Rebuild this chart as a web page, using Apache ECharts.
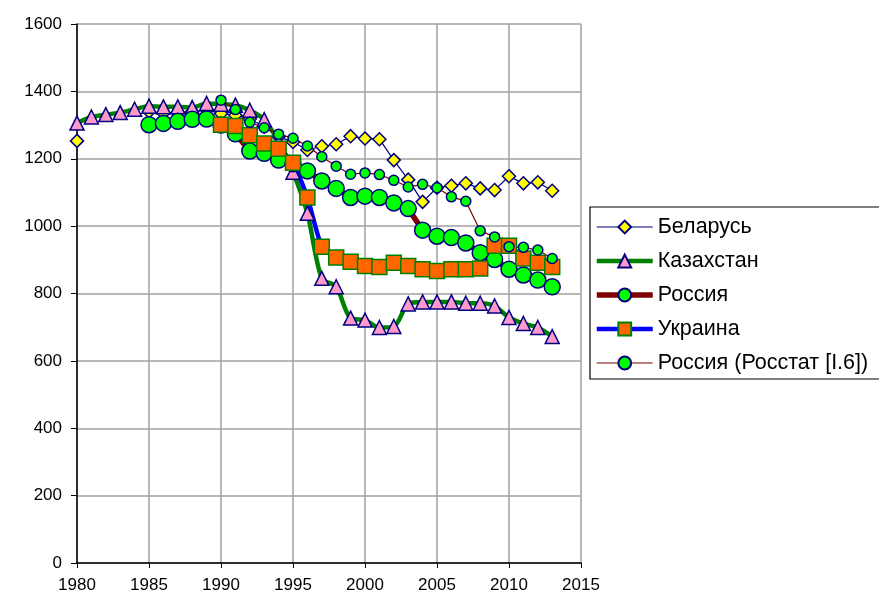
<!DOCTYPE html>
<html>
<head>
<meta charset="utf-8">
<script src="https://cdn.jsdelivr.net/npm/echarts@6/dist/echarts.min.js"></script>
<style>
html,body{margin:0;padding:0;background:#fff;}
#c{width:879px;height:598px;}
</style>
</head>
<body>
<div id="c"></div>
<script>
var years = [1980,1981,1982,1983,1984,1985,1986,1987,1988,1989,1990,1991,1992,1993,1994,1995,1996,1997,1998,1999,2000,2001,2002,2003,2004,2005,2006,2007,2008,2009,2010,2011,2012,2013];
var belarus = [1253,null,null,null,null,1340,1335,1337,1340,1345,1334,1329,1318,1295,1265,1250,1226,1237,1243,1267,1260,1258,1196,1138,1072,1114,1120,1127,1112,1107,1148,1127,1130,1105];
var kazakhstan = [1306,1324,1331,1337,1347,1356,1354,1354,1352,1364,1362,1359,1344,1316,1250,1160,1038,845,820,727,721,699,702,769,775,775,775,771,771,763,729,711,699,672];
var russia = [null,null,null,null,null,1301,1305,1311,1317,1318,1300,1274,1223,1216,1196,1185,1164,1134,1112,1085,1089,1085,1069,1052,988,970,966,950,921,901,872,855,840,820];
var ukraine = [null,null,null,null,null,null,null,null,null,null,1301,1297,1270,1245,1230,1188,1085,939,907,894,882,879,891,882,872,867,872,872,874,942,942,904,891,879];
var russiaRosstat = [null,null,null,null,null,null,null,null,null,null,1374,1346,1308,1292,1273,1261,1238,1206,1178,1154,1158,1153,1136,1116,1124,1114,1087,1074,986,968,939,937,929,904];
var xTicks = [1980,1985,1990,1995,2000,2005,2010,2015];
var yTicks = [0,200,400,600,800,1000,1200,1400,1600];

function pairs(arr){
  var out = [];
  var started = false;
  for (var i = 0; i < years.length; i++) {
    if (arr[i] !== null) { out.push([years[i], arr[i]]); started = true; }
    else if (started) out.push([years[i], '-']);
  }
  return out;
}

var chart = echarts.init(document.getElementById('c'), null, {renderer:'canvas'});
var font = 'Arial, "Liberation Sans", sans-serif';
chart.setOption({
  animation:false,
  backgroundColor:'#fff',
  grid:{left:77, right:298, top:24, bottom:35, containLabel:false},
  xAxis:{
    type:'value', min:xTicks[0], max:xTicks[xTicks.length-1], interval:5,
    axisLine:{show:true, onZero:false, lineStyle:{color:'#000', width:1.5}},
    axisTick:{show:true, length:5, inside:false, lineStyle:{color:'#000'}},
    axisLabel:{color:'#000', fontSize:17, fontFamily:font, margin:14, formatter:function(v){return String(v);}},
    splitLine:{show:true, lineStyle:{color:'#a0a0a0', width:1.5}}
  },
  yAxis:{
    type:'value', min:yTicks[0], max:yTicks[yTicks.length-1], interval:200,
    axisLine:{show:true, onZero:false, lineStyle:{color:'#000', width:1.5}},
    axisTick:{show:true, length:6, lineStyle:{color:'#000'}},
    axisLabel:{color:'#000', fontSize:17, fontFamily:font, margin:15, formatter:function(v){return String(v);}},
    splitLine:{show:true, lineStyle:{color:'#a0a0a0', width:1.5}}
  },
  legend:{
    orient:'vertical', left:590, top:207,
    borderColor:'#000', borderWidth:1.2, borderRadius:0,
    padding:[9,40,5,4],
    itemWidth:56, itemHeight:16, itemGap:12,
    textStyle:{color:'#000', fontSize:21.5, fontFamily:font},
    data:[
      {name:'Беларусь', lineStyle:{width:1.2, color:'#000080'}},
      {name:'Казахстан', lineStyle:{width:4.5, color:'#008000'}},
      {name:'Россия', lineStyle:{width:5.5, color:'#800000'}},
      {name:'Украина', lineStyle:{width:4.5, color:'#0000ff'}},
      {name:'Россия (Росстат [I.6])', lineStyle:{width:1.2, color:'#800000'}}
    ]
  },
  series:[
    {name:'Беларусь', type:'line', data:pairs(belarus), connectNulls:false,
     symbol:'diamond', symbolSize:13,
     lineStyle:{color:'#000080', width:1.2},
     itemStyle:{color:'#ffff00', borderColor:'#000080', borderWidth:1.5}},
    {name:'Казахстан', type:'line', data:pairs(kazakhstan), smooth:0.3,
     symbol:'triangle', symbolSize:14,
     lineStyle:{color:'#008000', width:4.5},
     itemStyle:{color:'#ff99cc', borderColor:'#000080', borderWidth:1.5}},
    {name:'Россия', type:'line', data:pairs(russia),
     symbol:'circle', symbolSize:16,
     lineStyle:{color:'#800000', width:5.5},
     itemStyle:{color:'#00ff00', borderColor:'#000080', borderWidth:1.5}},
    {name:'Украина', type:'line', data:pairs(ukraine), smooth:0.2,
     symbol:'rect', symbolSize:15,
     lineStyle:{color:'#0000ff', width:4.5},
     itemStyle:{color:'#ff6600', borderColor:'#008000', borderWidth:1.5}},
    {name:'Россия (Росстат [I.6])', type:'line', data:pairs(russiaRosstat),
     symbol:'circle', symbolSize:10,
     lineStyle:{color:'#800000', width:1.2},
     itemStyle:{color:'#00ff00', borderColor:'#000080', borderWidth:1.5}}
  ]
});
</script>
</body>
</html>
